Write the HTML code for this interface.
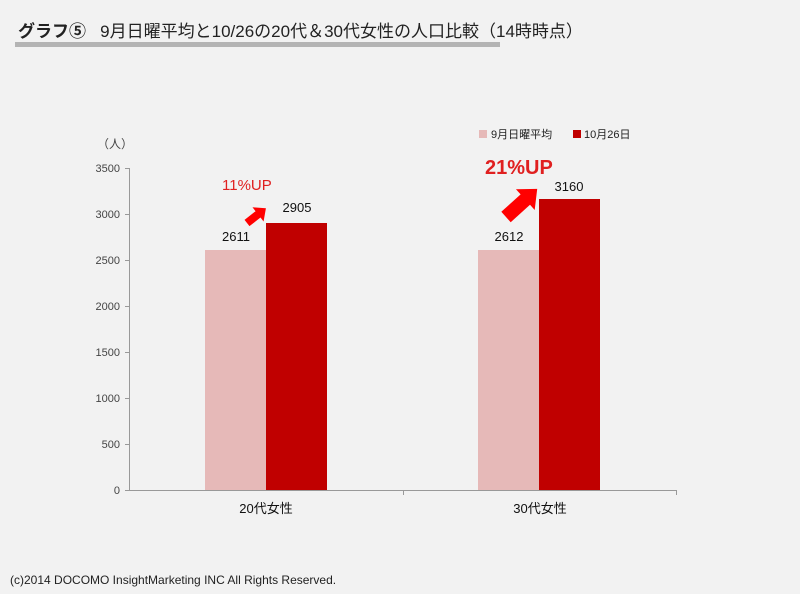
<!DOCTYPE html><html><head><meta charset="utf-8"><style>
body{margin:0;width:800px;height:594px;background:#f2f2f2;font-family:"Liberation Sans","Noto Sans CJK JP",sans-serif;position:relative;overflow:hidden}
.t{position:absolute;white-space:nowrap}
</style></head><body>
<div class="t" style="left:18px;top:17px;font-size:17px;color:#222"><b>グラフ⑤</b>&nbsp;&nbsp; 9月日曜平均と10/26の20代＆30代女性の人口比較（14時時点）</div>
<div style="position:absolute;left:15px;top:42px;width:485px;height:5px;background:#b4b4b4"></div>
<svg width="800" height="594" style="position:absolute;left:0;top:0" font-family="Liberation Sans, Noto Sans CJK JP, sans-serif">
<g stroke="#999" stroke-width="1">
<line x1="129.5" y1="168" x2="129.5" y2="490"/>
<line x1="129" y1="490.5" x2="677" y2="490.5"/>
<line x1="125" y1="168.5" x2="129" y2="168.5"/><line x1="125" y1="214.5" x2="129" y2="214.5"/>
<line x1="125" y1="260.5" x2="129" y2="260.5"/><line x1="125" y1="306.5" x2="129" y2="306.5"/>
<line x1="125" y1="352.5" x2="129" y2="352.5"/><line x1="125" y1="398.5" x2="129" y2="398.5"/>
<line x1="125" y1="444.5" x2="129" y2="444.5"/><line x1="125" y1="490.5" x2="129" y2="490.5"/>
<line x1="403.5" y1="490" x2="403.5" y2="495"/><line x1="676.5" y1="490" x2="676.5" y2="495"/>
</g>
<g font-size="11" fill="#444" text-anchor="end">
<text x="120" y="172">3500</text><text x="120" y="218">3000</text><text x="120" y="264">2500</text>
<text x="120" y="310">2000</text><text x="120" y="356">1500</text><text x="120" y="402">1000</text>
<text x="120" y="448">500</text><text x="120" y="494">0</text></g>
<text x="97" y="148" font-size="12" fill="#444">（人）</text>
<rect x="205" y="250" width="61" height="240" fill="#e6b9b8"/>
<rect x="266" y="223" width="61" height="267" fill="#c00000"/>
<rect x="478" y="250" width="61" height="240" fill="#e6b9b8"/>
<rect x="539" y="199" width="61" height="291" fill="#c00000"/>
<g font-size="13" fill="#111" text-anchor="middle">
<text x="236" y="241">2611</text><text x="297" y="212">2905</text>
<text x="509" y="241">2612</text><text x="569" y="191">3160</text>
<text x="266" y="513" font-size="13">20代女性</text><text x="540" y="513" font-size="13">30代女性</text></g>
<text x="222" y="190" font-size="15" fill="#e02020">11%UP</text>
<text x="485" y="174" font-size="20" fill="#e02020" font-weight="bold">21%UP</text>
<polygon transform="translate(247,223) rotate(-38)" points="0,-4 14,-4 14,-9 24,0 14,9 14,4 0,4" fill="#f00"/>
<polygon transform="translate(506,217) rotate(-42)" points="0,-7 26,-7 26,-14 42,0 26,14 26,7 0,7" fill="#f00"/>
<rect x="479" y="130" width="8" height="8" fill="#e6b9b8"/>
<text x="491" y="138" font-size="11" fill="#222">9月日曜平均</text>
<rect x="573" y="130" width="8" height="8" fill="#c00000"/>
<text x="584" y="138" font-size="11" fill="#222">10月26日</text>
</svg>
<div class="t" style="left:10px;top:573px;font-size:12px;color:#222">(c)2014 DOCOMO InsightMarketing INC All Rights Reserved.</div>
</body></html>
